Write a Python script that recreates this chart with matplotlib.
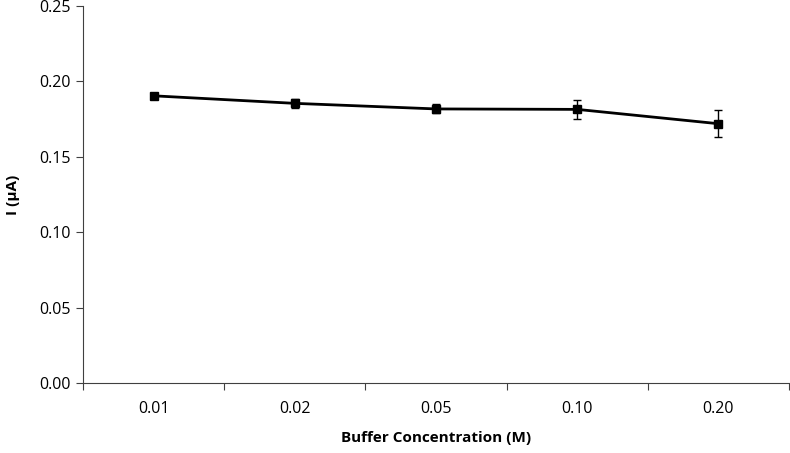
import matplotlib.pyplot as plt

plt.rcParams['font.family'] = ['Open Sans', 'DejaVu Sans']

concentrations = ['0.01', '0.02', '0.05', '0.10', '0.20']
current = [0.1905, 0.1855, 0.1818, 0.1815, 0.1720]
current_err = [0.0008, 0.0030, 0.0030, 0.0065, 0.0090]

fig = plt.figure(figsize=(7.9, 4.53), dpi=100)
ax = fig.add_axes([0.1051, 0.1545, 0.8937, 0.832])

x = [i + 0.5 for i in range(len(concentrations))]
ax.errorbar(x, current, yerr=current_err, color='black', linewidth=2,
            marker='s', markersize=5.5, elinewidth=1, capsize=3, capthick=1)

ax.set_xlim(0, len(concentrations))
ax.set_ylim(0, 0.25)
ax.set_xticks(range(len(concentrations) + 1))
ax.set_xticklabels([])
ax.set_xticks(x, minor=True)
ax.set_xticklabels(concentrations, minor=True)
ax.tick_params(axis='x', which='minor', length=0, pad=13, labelsize=11.5)
ax.tick_params(axis='x', which='major', length=5, direction='out', color='#404040')
ax.set_yticks([0, 0.05, 0.10, 0.15, 0.20, 0.25])
ax.set_yticklabels(['0.00', '0.05', '0.10', '0.15', '0.20', '0.25'])
ax.tick_params(axis='y', length=5, direction='out', labelsize=11.5, color='#404040')

for side in ['top', 'right']:
    ax.spines[side].set_visible(False)
for side in ['left', 'bottom']:
    ax.spines[side].set_color('#404040')

ax.set_xlabel('Buffer Concentration (M)', fontweight='bold', fontsize=11, labelpad=10)
ax.set_ylabel('I (μA)', fontweight='bold', fontsize=11, labelpad=14)

fig.savefig('out.png', dpi=100)
